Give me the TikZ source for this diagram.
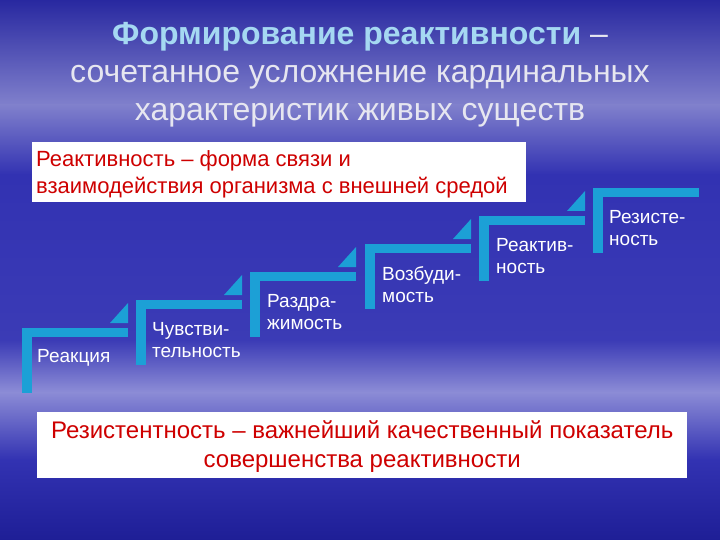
\documentclass[tikz,border=0pt]{standalone}
\usepackage{fontspec}
\setmainfont{Liberation Sans}
\usetikzlibrary{positioning}

\definecolor{stepblue}{RGB}{28,160,214}
\definecolor{textred}{RGB}{206,0,0}
\definecolor{titlecyan}{RGB}{165,216,242}
\definecolor{titlegray}{RGB}{230,230,240}
\definecolor{bgtop}{RGB}{40,40,160}
\definecolor{bghaze}{RGB}{128,128,204}
\definecolor{bgmid}{RGB}{50,50,178}
\definecolor{bglow}{RGB}{140,140,214}
\definecolor{bgbottom}{RGB}{30,30,150}

\tikzset{
  steplabel/.style={anchor=north west,align=left,text=white,inner sep=0pt,
    font=\fontsize{19}{22}\selectfont},
  whitebox/.style={fill=white,draw=none,anchor=north west,inner sep=0pt},
  redtext/.style={text=textred,font=\fontsize{22}{27}\selectfont,inner sep=0pt},
  titletext/.style={align=center,text=titlegray,inner sep=0pt,
    font=\fontsize{32}{38}\selectfont},
}

\begin{document}
\begin{tikzpicture}[x=1pt,y=-1pt]
 \useasboundingbox (0,0) rectangle (720,540);
 % background
 \shade[top color=bgtop,bottom color=bghaze] (0,0) rectangle (720,105);
 \shade[top color=bghaze,bottom color=bgmid] (0,105) rectangle (720,175);
 \shade[top color=bgmid,bottom color=bgmid!90!bglow] (0,175) rectangle (720,340);
 \shade[top color=bgmid!90!bglow,bottom color=bglow] (0,340) rectangle (720,392);
 \shade[top color=bglow,bottom color=bgmid] (0,392) rectangle (720,460);
 \shade[top color=bgmid,bottom color=bgbottom] (0,460) rectangle (720,540);

 % title
 \node[titletext] (title) at (360,75)
  {\textbf{\color{titlecyan}Формирование реактивности} –\\сочетанное усложнение кардинальных\\характеристик живых существ};

 % definition box
 \node[whitebox,minimum width=494pt,minimum height=60pt] (defbox) at (32,142) {};
 \node[redtext,align=left,anchor=west] (deftext) at (36,174)
  {Реактивность – форма связи и\\взаимодействия организма с внешней средой};

 % steps
 \fill[stepblue](22,328) rectangle (128,337);
 \fill[stepblue](22,328) rectangle (32,393);
 \fill[stepblue](110,323)--(128,303)--(128,323)--cycle;
 \fill[stepblue](136,300) rectangle (242,309);
 \fill[stepblue](136,300) rectangle (146,365);
 \fill[stepblue](224,295)--(242,275)--(242,295)--cycle;
 \fill[stepblue](250,272) rectangle (356,281);
 \fill[stepblue](250,272) rectangle (260,337);
 \fill[stepblue](338,267)--(356,247)--(356,267)--cycle;
 \fill[stepblue](365,244) rectangle (471,253);
 \fill[stepblue](365,244) rectangle (375,309);
 \fill[stepblue](453,239)--(471,219)--(471,239)--cycle;
 \fill[stepblue](479,216) rectangle (585,225);
 \fill[stepblue](479,216) rectangle (489,281);
 \fill[stepblue](567,211)--(585,191)--(585,211)--cycle;
 \fill[stepblue](593,188) rectangle (699,197);
 \fill[stepblue](593,188) rectangle (603,253);

 \node[steplabel] (reaction) at (37,349) {Реакция};
 \node[steplabel] (sensitivity) at (152,322) {Чувстви-\\тельность};
 \node[steplabel] (irritability) at (267,294) {Раздра-\\жимость};
 \node[steplabel] (excitability) at (382,266) {Возбуди-\\мость};
 \node[steplabel] (reactivity) at (496,238) {Реактив-\\ность};
 \node[steplabel] (resistance) at (609,210) {Резисте-\\ность};

 % conclusion box
 \node[whitebox,minimum width=650pt,minimum height=66pt] (resbox) at (37,412) {};
 \node[redtext,align=center,font=\fontsize{24}{29}\selectfont] (restext) at ([yshift=-1pt]resbox.center)
  {Резистентность – важнейший качественный показатель\\совершенства реактивности};
\end{tikzpicture}
\end{document}
